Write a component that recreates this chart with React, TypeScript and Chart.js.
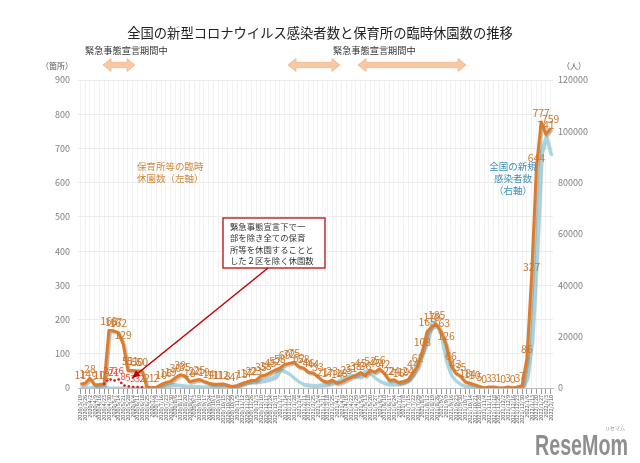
import React, { useEffect, useRef } from "react";
import { Chart, registerables } from "chart.js";

Chart.register(...registerables);

const JP = '"Noto Sans CJK JP", "Noto Sans", sans-serif';

// Weekly reporting dates (x categories)
const dateLabels: string[] = [
  "2020/3/19", "2020/3/26", "2020/4/2", "2020/4/9", "2020/4/16", "2020/4/23", "2020/4/30", "2020/5/7", "2020/5/14", "2020/5/21",
  "2020/5/28", "2020/6/4", "2020/6/11", "2020/6/18", "2020/6/25", "2020/7/2", "2020/7/9", "2020/7/16", "2020/7/23", "2020/7/30",
  "2020/8/6", "2020/8/13", "2020/8/20", "2020/8/27", "2020/9/3", "2020/9/10", "2020/9/17", "2020/9/24", "2020/10/1", "2020/10/8",
  "2020/10/15", "2020/10/22", "2020/10/29", "2020/11/5", "2020/11/12", "2020/11/19", "2020/11/26", "2020/12/3", "2020/12/10", "2020/12/17",
  "2020/12/24", "2020/12/31", "2021/1/7", "2021/1/14", "2021/1/21", "2021/1/28", "2021/2/4", "2021/2/11", "2021/2/18", "2021/2/25",
  "2021/3/4", "2021/3/11", "2021/3/18", "2021/3/25", "2021/4/1", "2021/4/8", "2021/4/15", "2021/4/22", "2021/4/29", "2021/5/6",
  "2021/5/13", "2021/5/20", "2021/5/27", "2021/6/3", "2021/6/10", "2021/6/17", "2021/6/24", "2021/7/1", "2021/7/8", "2021/7/15",
  "2021/7/22", "2021/7/29", "2021/8/5", "2021/8/12", "2021/8/19", "2021/8/26", "2021/9/2", "2021/9/9", "2021/9/16", "2021/9/23",
  "2021/9/30", "2021/10/7", "2021/10/14", "2021/10/21", "2021/10/28", "2021/11/4", "2021/11/11", "2021/11/18", "2021/11/25", "2021/12/2",
  "2021/12/9", "2021/12/16", "2021/12/23", "2021/12/30", "2022/1/6", "2022/1/13", "2022/1/20", "2022/1/27", "2022/2/3", "2022/2/10",
];

// 保育所等の臨時休園数（左軸）
const closures: number[] = [
  11, 14, 28, 9, 10, 12, 168, 167, 162, 129,
  51, 51, 50, 50, 2, 1, 2, 10, 16, 19,
  30, 39, 35, 18, 22, 25, 19, 14, 11, 11,
  12, 8, 4, 7, 13, 17, 22, 23, 35, 38,
  45, 52, 58, 69, 72, 75, 62, 58, 46, 44,
  33, 21, 17, 23, 14, 18, 25, 31, 38, 45,
  36, 52, 46, 56, 42, 22, 24, 16, 19, 24,
  44, 62, 108, 165, 179, 185, 163, 126, 66, 43,
  35, 18, 14, 10, 5, 0, 3, 3, 1, 0,
  3, 0, 3, 7, 86, 327, 644, 777, 741, 759,
];

// 緊急事態宣言下で一部を除き全ての保育所等を休園することとした２区を除く休園数
const closuresExcl2Wards: (number | null)[] = [
  null, null, null, null, null, 12, 27, 21, 26, 8,
  5, 3, 3, 2,
];

// 全国の新規感染者数（右軸）
const newCases: number[] = [
  40, 97, 235, 580, 580, 440, 190, 90, 55, 30,
  40, 40, 40, 70, 100, 195, 355, 620, 980, 1300,
  1480, 1180, 1000, 750, 590, 640, 500, 480, 620, 560,
  700, 630, 800, 1050, 1660, 2380, 2500, 2500, 2800, 3200,
  3700, 4500, 7500, 6600, 5600, 3900, 2600, 1500, 1300, 1100,
  1150, 1300, 1500, 2000, 2600, 3400, 4500, 5100, 4700, 4500,
  6800, 5700, 4100, 2800, 2000, 1700, 1700, 1800, 2200, 3400,
  5400, 10700, 14200, 18800, 25900, 24900, 20000, 10400, 5100, 2900,
  1600, 800, 620, 350, 260, 170, 210, 150, 110, 110,
  150, 190, 300, 500, 4500, 18800, 52000, 92000, 98000, 91000,
];

const leftAxis = { min: 0, max: 900, step: 100 };
const rightAxis = { min: 0, max: 120000, step: 20000 };

const titleText = "全国の新型コロナウイルス感染者数と保育所の臨時休園数の推移";
const emergencyText = "緊急事態宣言期間中";
const noteLines = [
  "緊急事態宣言下で一",
  "部を除き全ての保育",
  "所等を休園することと",
  "した２区を除く休園数",
];

const shadowPlugin = {
  id: "lineShadow",
  beforeDatasetDraw(chart: any, args: any) {
    const ds = chart.data.datasets[args.index];
    if (!ds.shadowColor) return;
    const ctx = chart.ctx;
    ctx.save();
    ctx.shadowColor = ds.shadowColor;
    ctx.shadowOffsetX = 1.5;
    ctx.shadowOffsetY = 1.5;
    ctx.shadowBlur = 1;
  },
  afterDatasetDraw(chart: any, args: any) {
    const ds = chart.data.datasets[args.index];
    if (!ds.shadowColor) return;
    chart.ctx.restore();
  },
};

const valueLabelPlugin = {
  id: "valueLabels",
  afterDatasetsDraw(chart: any) {
    const ctx = chart.ctx;
    chart.data.datasets.forEach((ds: any, di: number) => {
      if (!ds.valueLabelColor) return;
      const meta = chart.getDatasetMeta(di);
      const first = ds.data.findIndex((v: any) => v != null);
      ctx.save();
      ctx.font = `${ds.valueLabelSize}px ${JP}`;
      ctx.fillStyle = ds.valueLabelColor;
      ctx.textAlign = "center";
      ctx.textBaseline = "bottom";
      meta.data.forEach((pt: any, i: number) => {
        const v = ds.data[i];
        if (v == null) return;
        if (ds.skipFirstLabel && i === first) return;
        ctx.fillText(String(v), pt.x, pt.y - 4);
      });
      ctx.restore();
    });
  },
};

function drawDoubleArrow(ctx: CanvasRenderingContext2D, x1: number, x2: number, cy: number) {
  const h = 8;
  const hw = 6.5;
  const sw = 2.6;
  ctx.beginPath();
  ctx.moveTo(x1, cy);
  ctx.lineTo(x1 + h, cy - hw);
  ctx.lineTo(x1 + h, cy - sw);
  ctx.lineTo(x2 - h, cy - sw);
  ctx.lineTo(x2 - h, cy - hw);
  ctx.lineTo(x2, cy);
  ctx.lineTo(x2 - h, cy + hw);
  ctx.lineTo(x2 - h, cy + sw);
  ctx.lineTo(x1 + h, cy + sw);
  ctx.lineTo(x1 + h, cy + hw);
  ctx.closePath();
  ctx.fillStyle = "#f8c8a4";
  ctx.fill();
  ctx.strokeStyle = "#f4b489";
  ctx.lineWidth = 0.8;
  ctx.stroke();
}

const overlayPlugin = {
  id: "overlay",
  afterDraw(chart: any) {
    const ctx: CanvasRenderingContext2D = chart.ctx;
    ctx.save();
    // title
    ctx.fillStyle = "#222";
    ctx.font = `13.3px ${JP}`;
    ctx.textAlign = "center";
    ctx.textBaseline = "middle";
    ctx.fillText(titleText, 320, 33);

    // emergency periods
    ctx.font = `9.2px ${JP}`;
    ctx.fillStyle = "#333";
    ctx.textAlign = "left";
    ctx.fillText(emergencyText, 85, 51);
    ctx.fillText(emergencyText, 333, 51);
    drawDoubleArrow(ctx, 103, 135, 65);
    drawDoubleArrow(ctx, 288, 340, 65);
    drawDoubleArrow(ctx, 358, 466, 65);

    // axis units
    ctx.fillStyle = "#595959";
    ctx.font = `8px ${JP}`;
    ctx.textAlign = "left";
    ctx.fillText("（箇所）", 41, 66);
    ctx.fillText("（人）", 562, 66);

    // series captions
    ctx.font = `9.5px ${JP}`;
    ctx.fillStyle = "#d08a3e";
    ctx.textAlign = "left";
    ctx.fillText("保育所等の臨時", 137, 166);
    ctx.fillText("休園数（左軸）", 137, 178);
    ctx.fillStyle = "#3d91b8";
    ctx.textAlign = "center";
    ctx.fillText("全国の新規", 513, 166);
    ctx.fillText("感染者数", 513, 178);
    ctx.fillText("（右軸）", 513, 190);

    // note box
    const bx = 223, by = 218, bw = 102, bh = 50;
    ctx.fillStyle = "#ffffff";
    ctx.fillRect(bx, by, bw, bh);
    ctx.strokeStyle = "#c42a2a";
    ctx.lineWidth = 1.5;
    ctx.strokeRect(bx, by, bw, bh);
    ctx.fillStyle = "#333";
    ctx.font = `8.4px ${JP}`;
    ctx.textAlign = "left";
    noteLines.forEach((t, i) => ctx.fillText(t, bx + 7, by + 8.5 + i * 11.5));

    // pointer line with arrow head
    const sx = 268, sy = 268, ex = 132, ey = 378;
    ctx.strokeStyle = "#c00000";
    ctx.lineWidth = 1.5;
    ctx.beginPath();
    ctx.moveTo(sx, sy);
    ctx.lineTo(ex, ey);
    ctx.stroke();
    const ang = Math.atan2(ey - sy, ex - sx);
    ctx.fillStyle = "#c00000";
    ctx.beginPath();
    ctx.moveTo(ex, ey);
    ctx.lineTo(ex - 8 * Math.cos(ang) + 3.5 * Math.sin(ang), ey - 8 * Math.sin(ang) - 3.5 * Math.cos(ang));
    ctx.lineTo(ex - 8 * Math.cos(ang) - 3.5 * Math.sin(ang), ey - 8 * Math.sin(ang) + 3.5 * Math.cos(ang));
    ctx.closePath();
    ctx.fill();

    // watermark
    ctx.fillStyle = "#8e8e8e";
    ctx.font = `bold 29px "Liberation Sans", Arial, sans-serif`;
    ctx.textAlign = "left";
    ctx.textBaseline = "alphabetic";
    const w = ctx.measureText("ReseMom").width;
    ctx.save();
    ctx.translate(535, 455);
    ctx.scale(93 / w, 1);
    ctx.fillText("ReseMom", 0, 0);
    ctx.restore();
    ctx.font = `5px ${JP}`;
    ctx.fillText("リセマム", 605, 430);
    ctx.restore();
  },
};

export default function App() {
  const ref = useRef<HTMLCanvasElement | null>(null);
  useEffect(() => {
    if (!ref.current) return;
    Chart.defaults.font.family = JP;
    const chart = new Chart(ref.current, {
      type: "line",
      data: {
        labels: dateLabels,
        datasets: [
          {
            label: "２区を除く休園数",
            data: closuresExcl2Wards,
            yAxisID: "y",
            borderColor: "#d42222",
            borderWidth: 2.6,
            borderDash: [0.1, 4.3],
            borderCapStyle: "round",
            pointRadius: 0,
            tension: 0,
            valueLabelColor: "#e0503c",
            valueLabelSize: 9.5,
            skipFirstLabel: true,
          } as any,
          {
            label: "保育所等の臨時休園数",
            data: closures,
            yAxisID: "y",
            borderColor: "#de7c2c",
            borderWidth: 3,
            borderJoinStyle: "round",
            pointRadius: 0,
            tension: 0,
            shadowColor: "rgba(110,110,90,0.45)",
            valueLabelColor: "#c8782e",
            valueLabelSize: 10.5,
          } as any,
          {
            label: "全国の新規感染者数",
            data: newCases,
            yAxisID: "y1",
            borderColor: "#a3d8e6",
            borderWidth: 2.6,
            borderJoinStyle: "round",
            pointRadius: 0,
            tension: 0,
            shadowColor: "rgba(90,130,145,0.45)",
          } as any,
        ],
      },
      options: {
        animation: false,
        responsive: false,
        layout: { padding: { top: 80, left: 0, right: 0, bottom: 0 } },
        plugins: { legend: { display: false }, tooltip: { enabled: false } },
        scales: {
          x: {
            offset: true,
            grid: { color: "#f2f2f2", tickColor: "#9a9a9a", tickLength: 6, offset: false },
            border: { color: "#bdbdbd" },
            ticks: {
              autoSkip: false,
              maxRotation: 90,
              minRotation: 90,
              color: "#555",
              font: { size: 5.5 },
              padding: 1,
            },
            afterFit: (s: any) => {
              s.height = 75;
            },
          },
          y: {
            position: "left",
            min: leftAxis.min,
            max: leftAxis.max,
            ticks: {
              stepSize: leftAxis.step,
              color: "#7f7f7f",
              font: { size: 9 },
              padding: 8,
              callback: (v: any) => String(v),
            },
            grid: { color: "#ececec", drawTicks: false },
            border: { display: false },
            afterFit: (s: any) => {
              s.width = 78;
            },
          },
          y1: {
            position: "right",
            min: rightAxis.min,
            max: rightAxis.max,
            ticks: {
              stepSize: rightAxis.step,
              color: "#7f7f7f",
              font: { size: 9 },
              padding: 5,
              callback: (v: any) => String(v),
            },
            grid: { drawOnChartArea: false, drawTicks: false },
            border: { display: false },
            afterFit: (s: any) => {
              s.width = 87;
            },
          },
        },
      } as any,
      plugins: [shadowPlugin, valueLabelPlugin, overlayPlugin],
    });
    return () => chart.destroy();
  }, []);

  return (
    <div style={{ position: "fixed", left: 0, top: 0, width: 640, height: 463, background: "#fff" }}>
      <canvas ref={ref} width={640} height={463} style={{ width: 640, height: 463, display: "block" }} />
    </div>
  );
}
